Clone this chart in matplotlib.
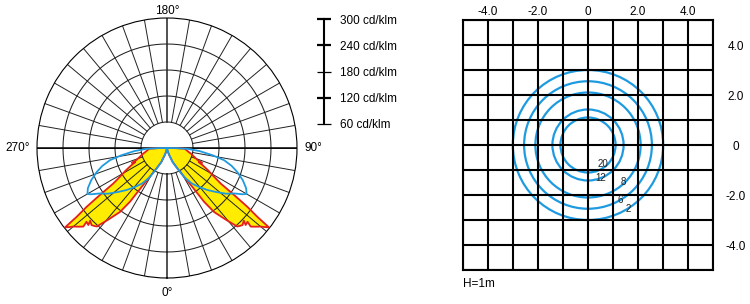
import numpy as np
import matplotlib
matplotlib.use("Agg")
import matplotlib.pyplot as plt
from matplotlib.patches import Circle
from matplotlib.ticker import FixedLocator, FixedFormatter

plt.rcParams['font.family'] = ['Liberation Sans', 'DejaVu Sans']

# Polar intensity curve (right half, degrees from nadir, cd/klm); left half is mirrored
lobe_deg = [90, 89, 88, 84.9, 80, 76.6, 72, 68.5, 67, 66.2, 64.1, 61.5, 59.1,
            56.5, 55, 53.8, 52.7, 52.1, 51, 50, 48.5, 46.8, 47.5, 45.6, 46.6,
            44.4, 43, 41.8, 39.3, 36.3, 35.6, 34.6, 33.9, 32.8, 30.8, 27.3,
            22, 17.5, 10, 0]
lobe_cd = [0, 20, 40, 44, 50, 57, 66, 76, 88, 80, 92, 108, 123,
           149, 189, 230, 262, 298, 290, 282, 274, 265, 252, 254, 244,
           249, 246, 243, 213, 183, 168, 151, 127, 102, 78, 54,
           35, 18, 6, 0]

# Second plane (blue), right half
plane2_deg = [0, 15, 22, 27, 31, 35, 39.6, 44, 48.1, 52.2, 55.9, 58.6, 60,
              63, 67, 71, 74.5, 77.9, 80.9, 84.7, 87.5, 89.5, 90]
plane2_cd = [0, 12, 35, 54, 80, 100, 117, 135, 152, 172, 187, 205, 212,
             205, 190, 172, 155, 135, 107, 75, 48, 20, 0]

ring_values = [60, 120, 180, 240, 300]
scale_major = [120, 240, 300]
scale_minor = [60, 180]

# Isolux diagram
lux_levels = [2, 6, 8, 12, 20]
lux_radius = [3.0, 2.55, 2.1, 1.42, 1.1]
lux_label_xy = [(1.59, -2.57), (1.29, -2.2), (1.4, -1.47), (0.52, -1.31), (0.59, -0.77)]
grid_ticks = [-4, -2, 0, 2, 4]
grid_ticklabels = ['-4.0', '-2.0', '0', '2.0', '4.0']

YELLOW = '#ffec00'
RED = '#e3201b'
BLUE = '#1e9be0'
FS = 8.5

fig = plt.figure(figsize=(7.5, 3.04), dpi=100)

# --- polar intensity diagram ---
ax = fig.add_axes([37 / 750, 26 / 304, 260 / 750, 260 / 304], projection='polar')
ax.set_theta_zero_location('S')
ax.set_theta_direction(1)
ax.set_ylim(0, 300)
ax.grid(False)
ax.set_xticks([])
ax.set_yticks([])
ax.spines['polar'].set_linewidth(0.8)

full = np.linspace(0, 2 * np.pi, 361)
for v in ring_values[:-1]:
    ax.plot(full, [v] * len(full), color='#222222', lw=0.75, zorder=2)
for a in range(0, 360, 10):
    t = np.deg2rad(a)
    lw = 1.1 if a in (0, 180) else 0.7
    ax.plot([t, t], [60, 300], color='#222222', lw=lw, zorder=2)
for a in (90, 270):
    t = np.deg2rad(a)
    ax.plot([t, t], [0, 300], color='black', lw=1.1, zorder=2)

lobe_r = np.deg2rad(lobe_deg)
lobe_l = np.deg2rad(360 - np.array(lobe_deg))
for th in (lobe_r, lobe_l):
    ax.fill(th, lobe_cd, color=YELLOW, lw=0, zorder=1)
    ax.plot(th, lobe_cd, color=RED, lw=1.3, zorder=3)

p2_r = np.deg2rad(plane2_deg)
p2_l = np.deg2rad(360 - np.array(plane2_deg))
for th in (p2_r, p2_l):
    ax.plot(th, plane2_cd, color=BLUE, lw=1.3, zorder=4)

ax.text(np.pi, 316, '180°', ha='center', va='center', fontsize=FS, clip_on=False)
ax.text(0, 334, '0°', ha='center', va='center', fontsize=FS, clip_on=False)
ax.text(np.pi / 2, 318, '90°', ha='left', va='center', fontsize=FS, clip_on=False)
ax.text(3 * np.pi / 2, 316, '270°', ha='right', va='center', fontsize=FS, clip_on=False)

# --- intensity scale bar ---
sax = fig.add_axes([323 / 750, (304 - 124) / 304, 0.0008, 105 / 304])
sax.set_ylim(60, 300)
sax.patch.set_visible(False)
for s in ('left', 'top', 'bottom'):
    sax.spines[s].set_visible(False)
sax.spines['right'].set_linewidth(1.5)
sax.set_xticks([])
sax.yaxis.tick_right()
sax.yaxis.set_major_locator(FixedLocator(scale_major))
sax.yaxis.set_major_formatter(FixedFormatter([f'{v} cd/klm' for v in scale_major]))
sax.yaxis.set_minor_locator(FixedLocator(scale_minor))
sax.yaxis.set_minor_formatter(FixedFormatter([f'{v} cd/klm' for v in scale_minor]))
sax.tick_params(axis='y', which='both', direction='inout', length=10, pad=7,
                labelsize=FS, color='black')
sax.tick_params(axis='y', which='major', width=1.6)
sax.tick_params(axis='y', which='minor', width=0.9)

# --- isolux grid ---
gax = fig.add_axes([462.7 / 750, 34 / 304, 250.6 / 750, 250 / 304])
gax.set_xlim(-5, 5)
gax.set_ylim(-5, 5)
gax.set_xticks(grid_ticks)
gax.set_xticklabels(grid_ticklabels)
gax.set_yticks(grid_ticks)
gax.set_yticklabels(grid_ticklabels)
gax.set_xticks(range(-5, 6), minor=True)
gax.set_yticks(range(-5, 6), minor=True)
gax.xaxis.tick_top()
gax.yaxis.tick_right()
gax.tick_params(which='both', length=0, labelsize=FS)
gax.tick_params(axis='x', pad=1.5)
gax.tick_params(axis='y', pad=16)
for lab in gax.get_yticklabels():
    lab.set_horizontalalignment('center')
gax.set_axisbelow(False)
gax.grid(which='both', color='black', lw=1.5)
for s in gax.spines.values():
    s.set_linewidth(1.5)

for lvl, rad, (lx, ly) in zip(lux_levels, lux_radius, lux_label_xy):
    gax.add_patch(Circle((0, 0), rad, fill=False, ec=BLUE, lw=1.6, zorder=1))
    gax.text(lx, ly, str(lvl), fontsize=7, color='#222222', ha='center', va='center', zorder=4)

fig.text(463 / 750, 1 - 284 / 304, 'H=1m', fontsize=FS, va='center', ha='left')

fig.savefig('out.png', dpi=100)
